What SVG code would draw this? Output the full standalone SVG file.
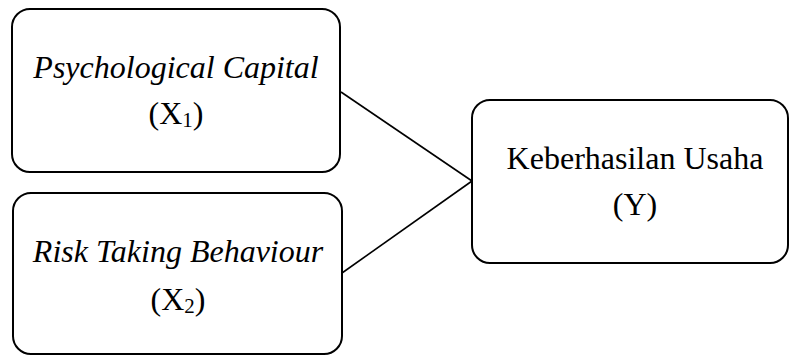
<svg xmlns="http://www.w3.org/2000/svg" width="790" height="356" viewBox="0 0 790 356">
<style>
.box{fill:#fff;stroke:#000;stroke-width:2}
.t{font-family:'Liberation Serif','Times New Roman',Times,serif;font-size:32px;fill:#000;text-anchor:middle}
.i{font-style:italic}
.ln{stroke:#000;stroke-width:1.6;fill:none}
</style>
<rect width="790" height="356" fill="#fff"/>
<g id="connectors">
<line class="ln" x1="341" y1="92" x2="472" y2="181"/>
<line class="ln" x1="342" y1="273" x2="472" y2="181"/>
</g>
<g id="x1">
<rect class="box" x="12" y="9" width="328" height="163" rx="18"/>
<text class="t i" x="176" y="78">Psychological Capital</text>
<text class="t" x="176" y="124">(X<tspan font-size="21" dy="3">1</tspan><tspan dy="-3">)</tspan></text>
</g>
<g id="x2">
<rect class="box" x="13" y="193" width="329" height="161" rx="18"/>
<text class="t i" x="178" y="262">Risk Taking Behaviour</text>
<text class="t" x="178" y="310">(X<tspan font-size="21" dy="3">2</tspan><tspan dy="-3">)</tspan></text>
</g>
<g id="y">
<rect class="box" x="472" y="100" width="316" height="163" rx="18"/>
<text class="t" x="635" y="169">Keberhasilan Usaha</text>
<text class="t" x="635" y="215">(Y)</text>
</g>
</svg>
